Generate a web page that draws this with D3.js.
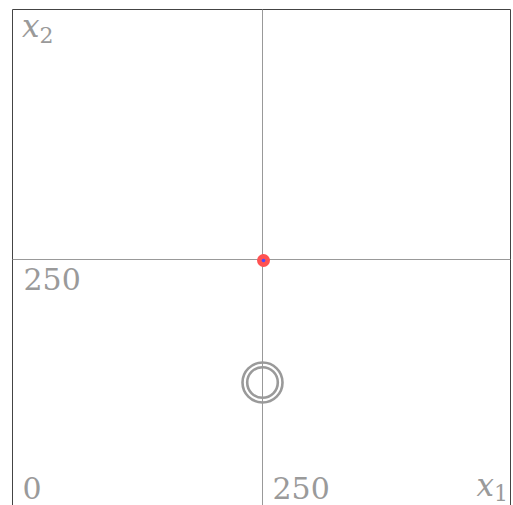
<!DOCTYPE html>
<html>
<head>
<meta charset="utf-8">
<script src="https://cdn.jsdelivr.net/npm/d3@7/dist/d3.min.js"></script>
<style>
  html, body { margin: 0; padding: 0; background: #fff; }
  svg { display: block; }
</style>
</head>
<body>
<svg id="chart" width="513" height="505"></svg>
<script>
// Axis ticks along x1 and x2
const xTicks = [0, 250];
const yTicks = [250];
// Guide lines through the centre of the plane
const guideX = [250];
const guideY = [250];
// Marked point (x1, x2)
const pointX = [251];
const pointY = [249];
// Concentric contour rings: centre and radii (data units)
const ringCenterX = [250];
const ringCenterY = [127];
const ringRadii = [20, 15.3];

const serif = "DejaVu Serif";
const grey = "#9a9a9a";

const svg = d3.select("#chart");
const x = d3.scaleLinear().domain([0, 500]).range([12.5, 512.5]);
const y = d3.scaleLinear().domain([0, 500]).range([509.5, 9.5]);

// Frame
svg.append("path")
  .attr("d", `M${x(0)},${y(0) + 20} V9.5 H510.5 V${y(0) + 20}`)
  .attr("fill", "none").attr("stroke", "#444").attr("stroke-width", 1);

// Guide lines
svg.selectAll("line.gx").data(guideX).join("line").attr("class", "gx")
  .attr("x1", d => x(d)).attr("x2", d => x(d))
  .attr("y1", 9.5).attr("y2", 520)
  .attr("stroke", "#999").attr("stroke-width", 1);
svg.selectAll("line.gy").data(guideY).join("line").attr("class", "gy")
  .attr("x1", x(0)).attr("x2", 510.5)
  .attr("y1", d => y(d)).attr("y2", d => y(d))
  .attr("stroke", "#999").attr("stroke-width", 1);

// Rings
svg.selectAll("circle.ring").data(ringRadii).join("circle").attr("class", "ring")
  .attr("cx", x(ringCenterX[0])).attr("cy", y(ringCenterY[0]))
  .attr("r", d => x(d) - x(0))
  .attr("fill", "none").attr("stroke", grey).attr("stroke-width", 2.6);

// Marked point
const pts = pointX.map((v, i) => [v, pointY[i]]);
svg.selectAll("circle.pt").data(pts).join("circle").attr("class", "pt")
  .attr("cx", d => x(d[0])).attr("cy", d => y(d[1])).attr("r", 6.5)
  .attr("fill", "#ff5252");
svg.selectAll("circle.ptc").data(pts).join("circle").attr("class", "ptc")
  .attr("cx", d => x(d[0])).attr("cy", d => y(d[1])).attr("r", 1.8)
  .attr("fill", "#4a4aff");

// Tick labels
svg.selectAll("text.xt").data(xTicks).join("text").attr("class", "xt")
  .attr("font-family", serif).attr("fill", grey)
  .attr("x", d => x(d) + 10).attr("y", 499)
  .attr("font-size", 30)
  .text(d => d);
svg.selectAll("text.yt").data(yTicks).join("text").attr("class", "yt")
  .attr("font-family", serif).attr("fill", grey)
  .attr("x", x(0) + 11).attr("y", d => y(d) + 30.5)
  .attr("font-size", 30)
  .text(d => d);

// Axis names
const n2 = svg.append("text").attr("font-family", serif).attr("fill", grey)
  .attr("x", 22).attr("y", 37)
  .attr("font-size", 31).attr("font-style", "italic");
n2.append("tspan").text("x");
n2.append("tspan").attr("font-size", 22).attr("font-style", "normal").attr("dy", 6).text("2");

const n1 = svg.append("text").attr("font-family", serif).attr("fill", grey)
  .attr("x", 508).attr("y", 496)
  .attr("text-anchor", "end").attr("font-size", 31).attr("font-style", "italic");
n1.append("tspan").text("x");
n1.append("tspan").attr("font-size", 22).attr("font-style", "normal").attr("dy", 5).text("1");
</script>
</body>
</html>
